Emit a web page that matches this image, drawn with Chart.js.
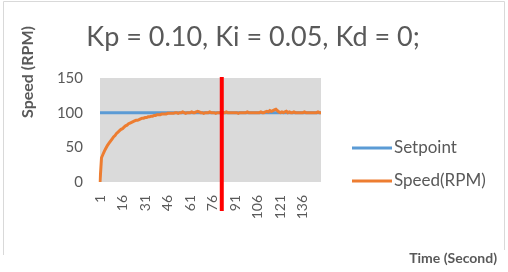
<!DOCTYPE html>
<html>
<head>
<meta charset="utf-8">
<script src="https://cdn.jsdelivr.net/npm/chart.js@4.4.1/dist/chart.umd.min.js"></script>
<style>
  html, body { margin: 0; padding: 0; background: #ffffff; }
  #wrap { position: relative; width: 508px; height: 272px; }
</style>
</head>
<body>
<div id="wrap"><canvas id="myChartPid" width="508" height="272"></canvas></div>
<script>
// Datos
const chartTitle = 'Kp = 0.10, Ki = 0.05, Kd = 0;';
const seriesNames = ['Setpoint', 'Speed(RPM)'];
const xTickLabels = ['1', '16', '31', '46', '61', '76', '91', '106', '121', '136'];
const yTicks = [0, 50, 100, 150];
const cursorTime = 82; // línea roja vertical

const setpoint = [
    100, 100, 100, 100, 100, 100, 100, 100, 100, 100, 100, 100, 100, 100, 100, 100, 100, 100, 100, 100,
    100, 100, 100, 100, 100, 100, 100, 100, 100, 100, 100, 100, 100, 100, 100, 100, 100, 100, 100, 100,
    100, 100, 100, 100, 100, 100, 100, 100, 100, 100, 100, 100, 100, 100, 100, 100, 100, 100, 100, 100,
    100, 100, 100, 100, 100, 100, 100, 100, 100, 100, 100, 100, 100, 100, 100, 100, 100, 100, 100, 100,
    100, 100, 100, 100, 100, 100, 100, 100, 100, 100, 100, 100, 100, 100, 100, 100, 100, 100, 100, 100,
    100, 100, 100, 100, 100, 100, 100, 100, 100, 100, 100, 100, 100, 100, 100, 100, 100, 100, 100, 100,
    100, 100, 100, 100, 100, 100, 100, 100, 100, 100, 100, 100, 100, 100, 100, 100, 100, 100, 100, 100,
    100, 100, 100, 100, 100, 100, 100, 100
];

const speed = [
    0, 35, 40, 45, 49, 53, 56, 59, 62, 65,
    67, 70, 72, 74, 76, 77, 79, 81, 82, 84,
    85, 86, 87, 88, 89, 89, 90, 91, 92, 92,
    93, 93, 94, 94, 95, 95, 96, 96, 97, 97,
    97, 98, 98, 98, 98, 99, 99, 99, 99, 99,
    100, 100, 99, 100, 100, 101, 100, 99, 100, 100,
    100, 101, 100, 100, 101, 102, 101, 100, 100, 99,
    100, 100, 100, 101, 100, 100, 100, 99, 100, 100,
    100, 100, 100, 100, 101, 100, 100, 100, 100, 100,
    100, 100, 99, 100, 100, 100, 100, 100, 101, 100,
    100, 100, 100, 100, 100, 100, 100, 101, 100, 100,
    101, 102, 101, 103, 102, 103, 104, 105, 103, 101,
    100, 101, 100, 101, 102, 100, 101, 100, 100, 101,
    100, 100, 100, 100, 100, 100, 101, 100, 100, 100,
    100, 100, 100, 100, 100, 101, 100, 100
];

const timeLabels = speed.map((v, i) => String(i + 1));

const colorSetpoint = '#5b9bd5';
const colorSpeed = '#ed7d31';
const textGrey = '#595959';
const fontName = 'Lato';

// Plugin para marco, fondo, títulos, leyenda y línea roja
const decorPlugin = {
    id: 'decor',
    beforeDraw(chart) {
        const ctx = chart.ctx;
        const area = chart.chartArea;
        ctx.save();
        ctx.fillStyle = '#ffffff';
        ctx.fillRect(0, 0, chart.width, chart.height);
        ctx.strokeStyle = '#d9d9d9';
        ctx.lineWidth = 1;
        ctx.beginPath();
        ctx.moveTo(3.5, 255);
        ctx.lineTo(3.5, 1.5);
        ctx.lineTo(504.5, 1.5);
        ctx.lineTo(504.5, 250);
        ctx.stroke();
        ctx.fillStyle = '#dadada';
        ctx.fillRect(area.left, area.top, area.right - area.left, area.bottom - area.top);
        ctx.restore();
    },
    afterDraw(chart) {
        const ctx = chart.ctx;
        const area = chart.chartArea;
        const xScale = chart.scales.x;
        ctx.save();

        // título
        ctx.fillStyle = textGrey;
        ctx.font = '27px ' + fontName;
        ctx.textAlign = 'center';
        ctx.textBaseline = 'alphabetic';
        ctx.fillText(chartTitle, 253, 46);

        // título eje Y
        ctx.save();
        ctx.translate(33, 72);
        ctx.rotate(-Math.PI / 2);
        ctx.font = 'bold 16px ' + fontName;
        ctx.textAlign = 'center';
        ctx.fillText('Speed (RPM)', 0, 0);
        ctx.restore();

        // título eje X
        ctx.font = 'bold 14px ' + fontName;
        ctx.textAlign = 'right';
        ctx.fillText('Time (Second)', 497, 263);

        // leyenda
        const legendColors = [colorSetpoint, colorSpeed];
        const legendY = [148, 181];
        ctx.font = '17px ' + fontName;
        ctx.textAlign = 'left';
        ctx.textBaseline = 'middle';
        seriesNames.forEach((name, i) => {
            ctx.strokeStyle = legendColors[i];
            ctx.lineWidth = 3;
            ctx.beginPath();
            ctx.moveTo(352, legendY[i]);
            ctx.lineTo(392, legendY[i]);
            ctx.stroke();
            ctx.fillStyle = textGrey;
            ctx.fillText(name, 394, legendY[i]);
        });

        // línea roja vertical
        const xRed = xScale.getPixelForValue(cursorTime - 1);
        ctx.strokeStyle = '#ff0000';
        ctx.lineWidth = 4;
        ctx.beginPath();
        ctx.moveTo(xRed, area.top - 1);
        ctx.lineTo(xRed, 211);
        ctx.stroke();
        ctx.restore();
    }
};

const ctxPid = document.getElementById('myChartPid').getContext('2d');
const myChartPid = new Chart(ctxPid, {
    type: 'line',
    data: {
        labels: timeLabels,
        datasets: [{
            label: seriesNames[0],
            data: setpoint,
            borderColor: colorSetpoint,
            borderWidth: 3,
            pointRadius: 0,
            tension: 0,
            order: 1
        }, {
            label: seriesNames[1],
            data: speed,
            borderColor: colorSpeed,
            borderWidth: 3,
            pointRadius: 0,
            tension: 0,
            order: 0
        }]
    },
    options: {
        responsive: false,
        animation: false,
        layout: { padding: { left: 40, right: 187, top: 78, bottom: 45 } },
        plugins: {
            legend: { display: false },
            title: { display: false },
            tooltip: { enabled: false }
        },
        scales: {
            x: {
                offset: false,
                grid: { display: false },
                border: { display: false },
                afterFit(scale) { scale.height = 45; },
                ticks: {
                    autoSkip: false,
                    maxRotation: 90,
                    minRotation: 90,
                    padding: 5,
                    color: textGrey,
                    font: { family: fontName, size: 14 },
                    callback(value) {
                        const lbl = this.getLabelForValue(value);
                        return xTickLabels.includes(lbl) ? lbl : '';
                    }
                }
            },
            y: {
                min: 0,
                max: 150,
                grid: { display: false },
                border: { display: false },
                afterFit(scale) { scale.width = 60; },
                afterBuildTicks(scale) { scale.ticks = yTicks.map(v => ({ value: v })); },
                ticks: {
                    padding: 9,
                    color: textGrey,
                    font: { family: fontName, size: 15 }
                }
            }
        }
    },
    plugins: [decorPlugin]
});
</script>
</body>
</html>
